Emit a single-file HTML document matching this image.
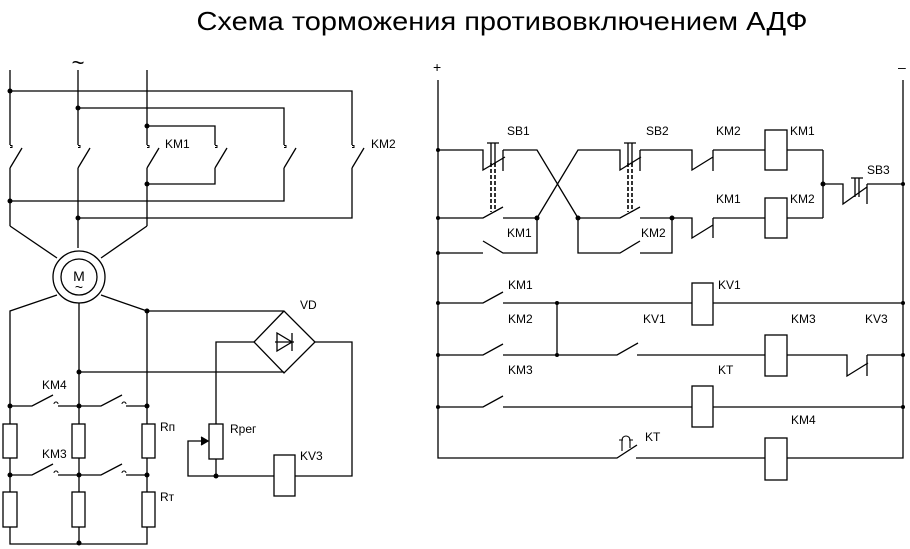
<!DOCTYPE html>
<html><head><meta charset="utf-8"><style>
html,body{margin:0;padding:0;background:#fff;}
svg{display:block;}
text{font-family:"Liberation Sans",sans-serif;font-size:12px;fill:#000;}
</style></head><body>
<svg width="910" height="549" viewBox="0 0 910 549" xmlns="http://www.w3.org/2000/svg">
<text x="502" y="30" text-anchor="middle" style="font-size:26px" textLength="611" lengthAdjust="spacingAndGlyphs">Схема торможения противовключением АДФ</text>
<g stroke="#000" stroke-width="1.3" fill="none">
<path d="M10 70V145M78 70V145M147 70V145"/>
<path d="M10 91H352V145M78 108H284V145M147 126H215V145"/>
<path d="M10 168L22 148M10 168V226"/>
<path d="M78 168L90 148M78 168V248"/>
<path d="M147 168L159 148M147 168V226"/>
<path d="M215 168L227 148M215 168V184H147"/>
<path d="M284 168L296 148M284 168V201H10"/>
<path d="M352 168L364 148M352 168V218H78"/>
<path d="M10 145.5h2v2h-2M78 145.5h2v2h-2M147 145.5h2v2h-2M215 145.5h2v2h-2M284 145.5h2v2h-2M352 145.5h2v2h-2" stroke-width="1"/>
<path d="M10 226L57 258M147 226L101 258"/>
<circle cx="79" cy="277" r="26"/>
<circle cx="79" cy="277" r="18"/>
<path d="M57 295L10 311V544H147V311L101 295M79 303V544"/>
<path d="M147 311H284L315 342L284 373L254 342L284 311M79 372H284"/>
<path d="M275 342H294M277 333V351L292 342Z M292 333V351"/>
<path d="M254 342H216V424M315 342H352V476H295M274 476H188V441H206M216 459V476"/>
<path d="M201 437L208 441L201 445" fill="#000"/>
<rect x="209" y="424" width="14" height="35"/>
<rect x="274" y="455" width="21" height="41" fill="#fff"/>
<path d="M10 406H32L53 395M58 406H101L122 395M126 406H147"/>
<path d="M10 475H32L53 464M58 475H101L122 464M126 475H147"/>
<path d="M54 404a2 2 0 0 1 4 0M122 404a2 2 0 0 1 4 0M54 473a2 2 0 0 1 4 0M122 473a2 2 0 0 1 4 0" stroke-width="1"/>
<g fill="#fff">
<rect x="3" y="424" width="14" height="34"/><rect x="72" y="424" width="13" height="34"/><rect x="142" y="424" width="13" height="34"/>
<rect x="3" y="492" width="14" height="35"/><rect x="72" y="492" width="13" height="35"/><rect x="142" y="492" width="13" height="35"/>
</g>
<path d="M438 80V458H617L637 445M636 458H903V80"/>
<path d="M438 150H483V170L505 157M503 150V171M503 150H537L578 218M537 218L578 150H620V170L641 157M640 150V171M640 150H692V170L713 157M713 150V171M713 150H823"/>
<path d="M823 150V218"/>
<path d="M438 218H483L503 207M503 218H537V253H503L483 241M483 253H438"/>
<path d="M578 218H620L640 207M640 218H692V238L713 225M713 218V238M713 218H823"/>
<path d="M578 218V253H620L640 241M640 253H672V218"/>
<path d="M823 184H843V204L867 187M867 184V204M867 184H903"/>
<path d="M487 143H499M491 143V165M495 143V165M624 143H636M628 143V165M632 143V165M851 178H863M855 178V197M859 178V197"/>
<path d="M491 163V212M495 163V212M628 163V212M632 163V212" stroke-dasharray="4,2" stroke-width="1.6"/>
<path d="M438 303H483L503 292M503 303H903M557 303V355"/>
<path d="M438 355H483L503 344M503 355H617L638 343M637 355H847V376L868 363M867 355V376M867 355H903"/>
<path d="M438 407H483L503 396M503 407H903"/>
<path d="M622 451V440a4 4 0 0 1 8 0V448M619 440h4M629 440h4" stroke-width="1.1"/>
<g fill="#fff">
<rect x="765" y="130" width="22" height="40"/>
<rect x="765" y="198" width="22" height="40"/>
<rect x="692" y="283" width="21" height="42"/>
<rect x="765" y="335" width="22" height="41"/>
<rect x="692" y="386" width="21" height="41"/>
<rect x="765" y="438" width="22" height="42"/>
</g>
</g>
<g fill="#000">
<circle cx="10" cy="91" r="2.5"/><circle cx="78" cy="108" r="2.5"/><circle cx="147" cy="126" r="2.5"/><circle cx="147" cy="184" r="2.5"/><circle cx="10" cy="201" r="2.5"/><circle cx="78" cy="218" r="2.5"/>
<circle cx="147" cy="311" r="2.5"/><circle cx="79" cy="372" r="2.5"/>
<circle cx="10" cy="406" r="2.5"/><circle cx="79" cy="406" r="2.5"/><circle cx="147" cy="406" r="2.5"/>
<circle cx="10" cy="475" r="2.5"/><circle cx="79" cy="475" r="2.5"/><circle cx="147" cy="475" r="2.5"/>
<circle cx="79" cy="543" r="2.5"/><circle cx="216" cy="476" r="2.5"/>
<circle cx="438" cy="150" r="2"/><circle cx="438" cy="218" r="2"/><circle cx="438" cy="253" r="2"/><circle cx="537" cy="218" r="2.5"/><circle cx="578" cy="218" r="2.5"/><circle cx="672" cy="218" r="2.5"/><circle cx="823" cy="184" r="2.5"/><circle cx="903" cy="184" r="2"/>
<circle cx="438" cy="303" r="2"/><circle cx="557" cy="303" r="2"/><circle cx="903" cy="303" r="2"/>
<circle cx="438" cy="355" r="2"/><circle cx="557" cy="355" r="2"/><circle cx="903" cy="355" r="2"/>
<circle cx="438" cy="407" r="2"/><circle cx="903" cy="407" r="2"/>
</g>
<text x="78" y="70" text-anchor="middle" style="font-size:22px">~</text>
<text x="79" y="281" text-anchor="middle" style="font-size:14px">M</text>
<text x="79" y="292" text-anchor="middle" style="font-size:14px">~</text>
<text x="165" y="148">KM1</text><text x="371" y="148">KM2</text>
<text x="300" y="309">VD</text>
<text x="42" y="389">KM4</text><text x="42" y="458">KM3</text>
<text x="160" y="431">Rп</text><text x="160" y="501">Rт</text>
<text x="230" y="433">Rрег</text><text x="300" y="460">KV3</text>
<text x="433" y="72" style="font-size:14px">+</text><text x="898" y="72" style="font-size:14px">–</text>
<text x="507" y="135">SB1</text><text x="646" y="135">SB2</text><text x="716" y="135">KM2</text><text x="790" y="135">KM1</text>
<text x="867" y="174">SB3</text>
<text x="716" y="203">KM1</text><text x="790" y="203">KM2</text>
<text x="507" y="237">KM1</text><text x="641" y="237">KM2</text>
<text x="508" y="289">KM1</text><text x="718" y="289">KV1</text>
<text x="508" y="323">KM2</text><text x="643" y="323">KV1</text><text x="791" y="323">KM3</text><text x="865" y="323">KV3</text>
<text x="508" y="374">KM3</text><text x="718" y="374">KT</text>
<text x="791" y="424">KM4</text><text x="645" y="441">KT</text>
</svg>
</body></html>
